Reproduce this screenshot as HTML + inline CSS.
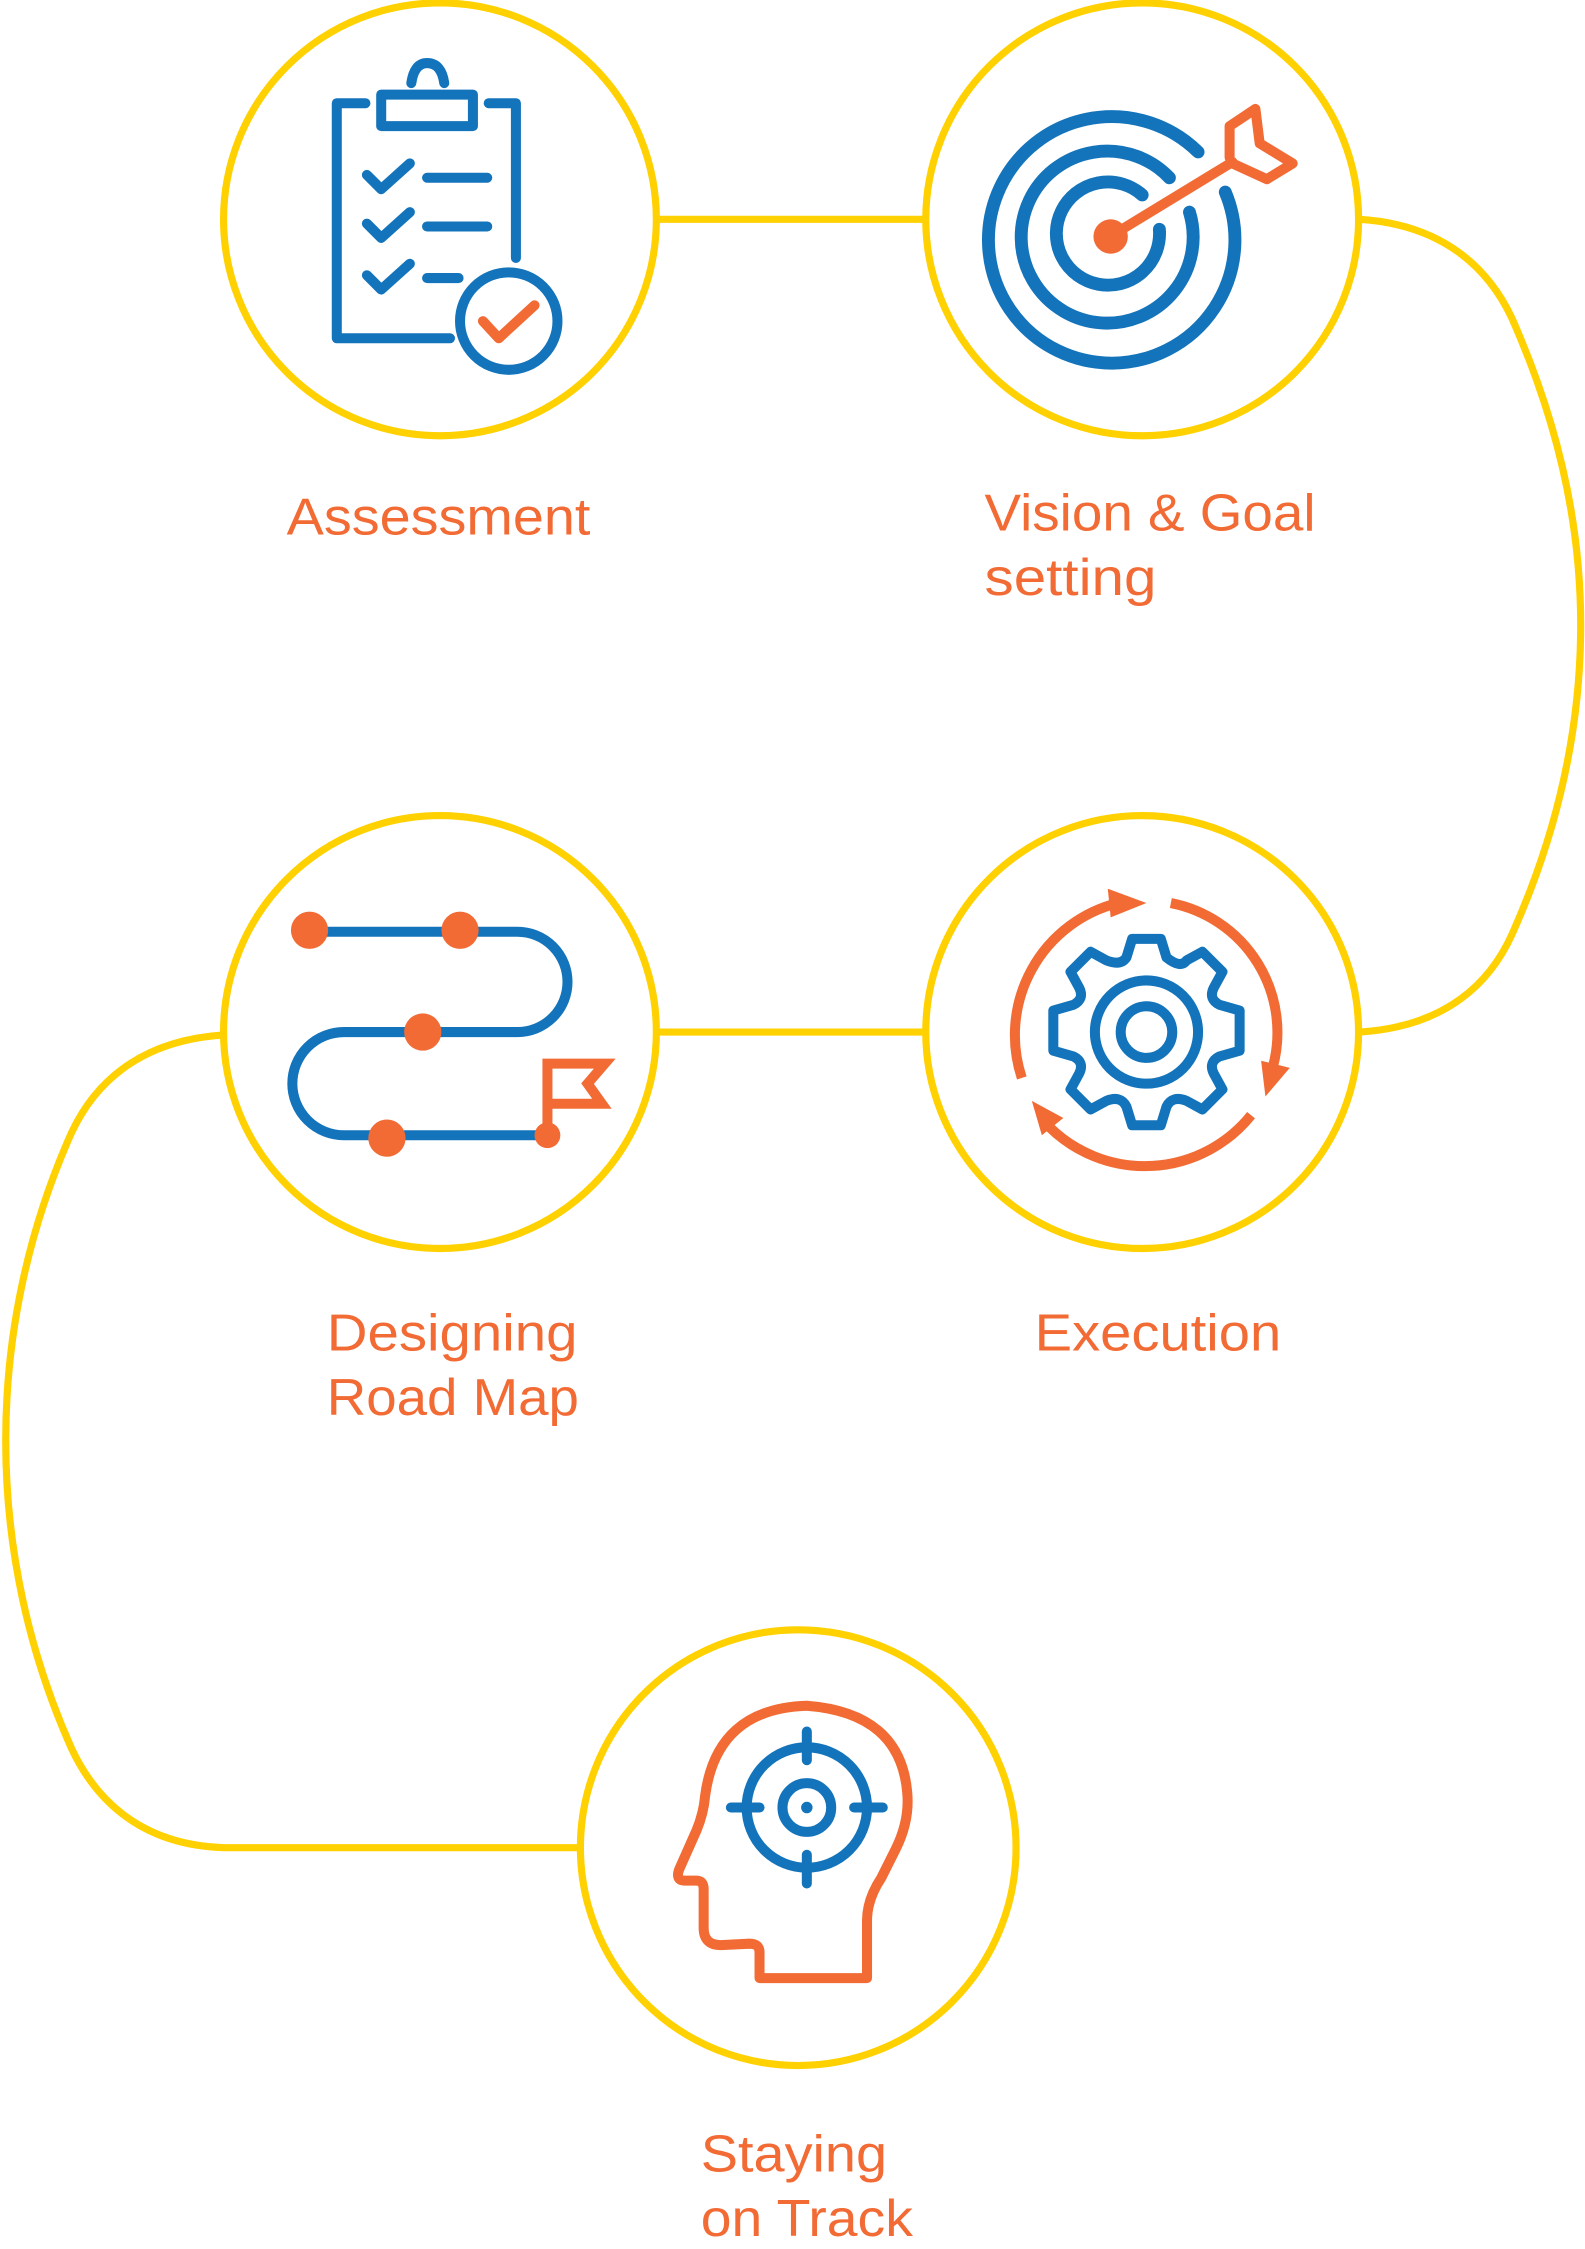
<!DOCTYPE html>
<html><head><meta charset="utf-8"><style>
html,body{margin:0;padding:0;background:#fff;}
svg{display:block;}
text{font-family:"Liberation Sans",sans-serif;font-size:36px;fill:#F26B35;}
</style></head><body>
<svg width="1585" height="2249" viewBox="0 0 1106 1569" preserveAspectRatio="none" xmlns="http://www.w3.org/2000/svg">
<g fill="none" stroke="#FFD100" stroke-width="5">
<circle cx="307" cy="153" r="151"/>
<circle cx="797" cy="153" r="151"/>
<circle cx="307" cy="720" r="151"/>
<circle cx="797" cy="720" r="151"/>
<circle cx="557" cy="1289" r="152"/>
<line x1="459" y1="153" x2="646" y2="153"/>
<line x1="459" y1="720" x2="646" y2="720"/>
<path d="M949,153 C1010,157 1040,190 1055,222 C1085,290 1103,360 1103,436 C1103,512 1085,585 1055,652 C1040,685 1010,716 949,720"/>
<path d="M156,722 C95,726 65,758 50,790 C20,857 4,930 4,1005 C4,1080 20,1153 50,1220 C65,1252 95,1287 156,1289 L405,1289"/>
</g>
<!-- Assessment icon -->
<g fill="none" stroke="#1474BB" stroke-width="7" stroke-linecap="round" stroke-linejoin="round">
<path d="M255,72 H235 V236 H314"/>
<path d="M341,72 H360 V180"/>
<rect x="266" y="66" width="64" height="22"/>
<path d="M287,58 Q289,44 298,44 Q308,44 310,58"/>
<path d="M256,122 L266,132 L286,114 M298,124 H340"/>
<path d="M256,156 L266,166 L286,148 M298,158 H340"/>
<path d="M256,192 L266,202 L286,184 M298,194 H320"/>
<circle cx="355" cy="224" r="34"/>
</g>
<path d="M337,224 L348,236 L373,213" fill="none" stroke="#F26B35" stroke-width="7" stroke-linecap="round" stroke-linejoin="round"/>
<!-- Target icon -->
<g fill="none" stroke="#1474BB" stroke-width="9" stroke-linecap="round">
<path d="M836,106 A86,86 0 1 0 855,134"/>
<path d="M816,124 A60,60 0 1 0 830,148"/>
<path d="M797,136 A36,36 0 1 0 809,160"/>
</g>
<circle cx="775" cy="165" r="12" fill="#F26B35"/>
<g fill="none" stroke="#F26B35" stroke-width="7" stroke-linecap="round" stroke-linejoin="round">
<line x1="778" y1="163" x2="860" y2="113"/>
<path d="M858,110 V88 L876,76 L879,100 L902,114 L884,125 L860,114"/>
</g>
<!-- Road map icon -->
<g fill="none" stroke="#1474BB" stroke-width="7">
<path d="M216,650 H361 A35,35 0 0 1 361,720 H240 A36,36 0 0 0 240,792 H382"/>
</g>
<g fill="#F26B35">
<circle cx="216" cy="649" r="13"/><circle cx="321" cy="649" r="13"/>
<circle cx="295" cy="720" r="13"/><circle cx="270" cy="794" r="13"/>
<circle cx="382" cy="792" r="9"/>
</g>
<path d="M382,792 V742 H422 L410,756 L420,770 H382" fill="none" stroke="#F26B35" stroke-width="7"/>
<!-- Gear icon -->
<g fill="none" stroke="#1474BB" stroke-width="7" stroke-linejoin="round">
<path d="M790,655 H810 L814,668 Q824,676 828,670 L839,664 L853,678 L847,689 Q843,697 851,701 L865,705 V733 L851,737 Q843,741 847,749 L853,760 L839,774 L828,768 Q818,764 814,772 L810,785 H790 L786,772 Q782,764 772,768 L761,774 L747,760 L753,749 Q757,741 749,737 L735,733 V705 L749,701 Q757,697 753,689 L747,678 L761,664 L772,670 Q782,674 786,668 Z"/>
<circle cx="800" cy="720" r="36"/>
<circle cx="800" cy="720" r="18"/>
</g>
<g fill="none" stroke="#F26B35" stroke-width="7">
<path d="M713,752 A95,95 0 0 1 780,630"/>
<path d="M817,630 A92,92 0 0 1 888,745"/>
<path d="M873,778 A95,95 0 0 1 732,786"/>
</g>
<g fill="#F26B35">
<polygon points="773,620 800,630 775,640"/>
<polygon points="880,740 900,745 883,765"/>
<polygon points="720,768 742,780 727,792"/>
</g>
<!-- Head icon -->
<path d="M530,1380 H605 V1340 Q605,1325 615,1310 L625,1290 Q635,1270 633,1250 Q628,1195 563,1190 Q500,1192 492,1253 Q491,1265 486,1277 L474,1304 Q471,1312 478,1312 H486 Q491,1312 491,1318 V1345 Q491,1357 503,1357 L523,1356 Q530,1356 530,1362 Z" fill="none" stroke="#F26B35" stroke-width="7" stroke-linejoin="round"/>
<g fill="none" stroke="#1474BB" stroke-width="7" stroke-linecap="round">
<circle cx="563" cy="1261" r="42"/>
<circle cx="563" cy="1261" r="17"/>
<line x1="563" y1="1208" x2="563" y2="1228"/><line x1="563" y1="1294" x2="563" y2="1314"/>
<line x1="510" y1="1261" x2="530" y2="1261"/><line x1="596" y1="1261" x2="616" y2="1261"/>
</g>
<circle cx="563" cy="1261" r="4" fill="#1474BB"/>
<!-- Labels -->
<text x="200" y="373" textLength="212" lengthAdjust="spacingAndGlyphs">Assessment</text>
<text x="687" y="370" textLength="231" lengthAdjust="spacingAndGlyphs">Vision &amp; Goal</text>
<text x="687" y="415" textLength="120" lengthAdjust="spacingAndGlyphs">setting</text>
<text x="228" y="942" textLength="175" lengthAdjust="spacingAndGlyphs">Designing</text>
<text x="228" y="987" textLength="176" lengthAdjust="spacingAndGlyphs">Road Map</text>
<text x="722" y="942" textLength="172" lengthAdjust="spacingAndGlyphs">Execution</text>
<text x="489" y="1515" textLength="130" lengthAdjust="spacingAndGlyphs">Staying</text>
<text x="489" y="1560" textLength="148" lengthAdjust="spacingAndGlyphs">on Track</text>
</svg>
</body></html>
